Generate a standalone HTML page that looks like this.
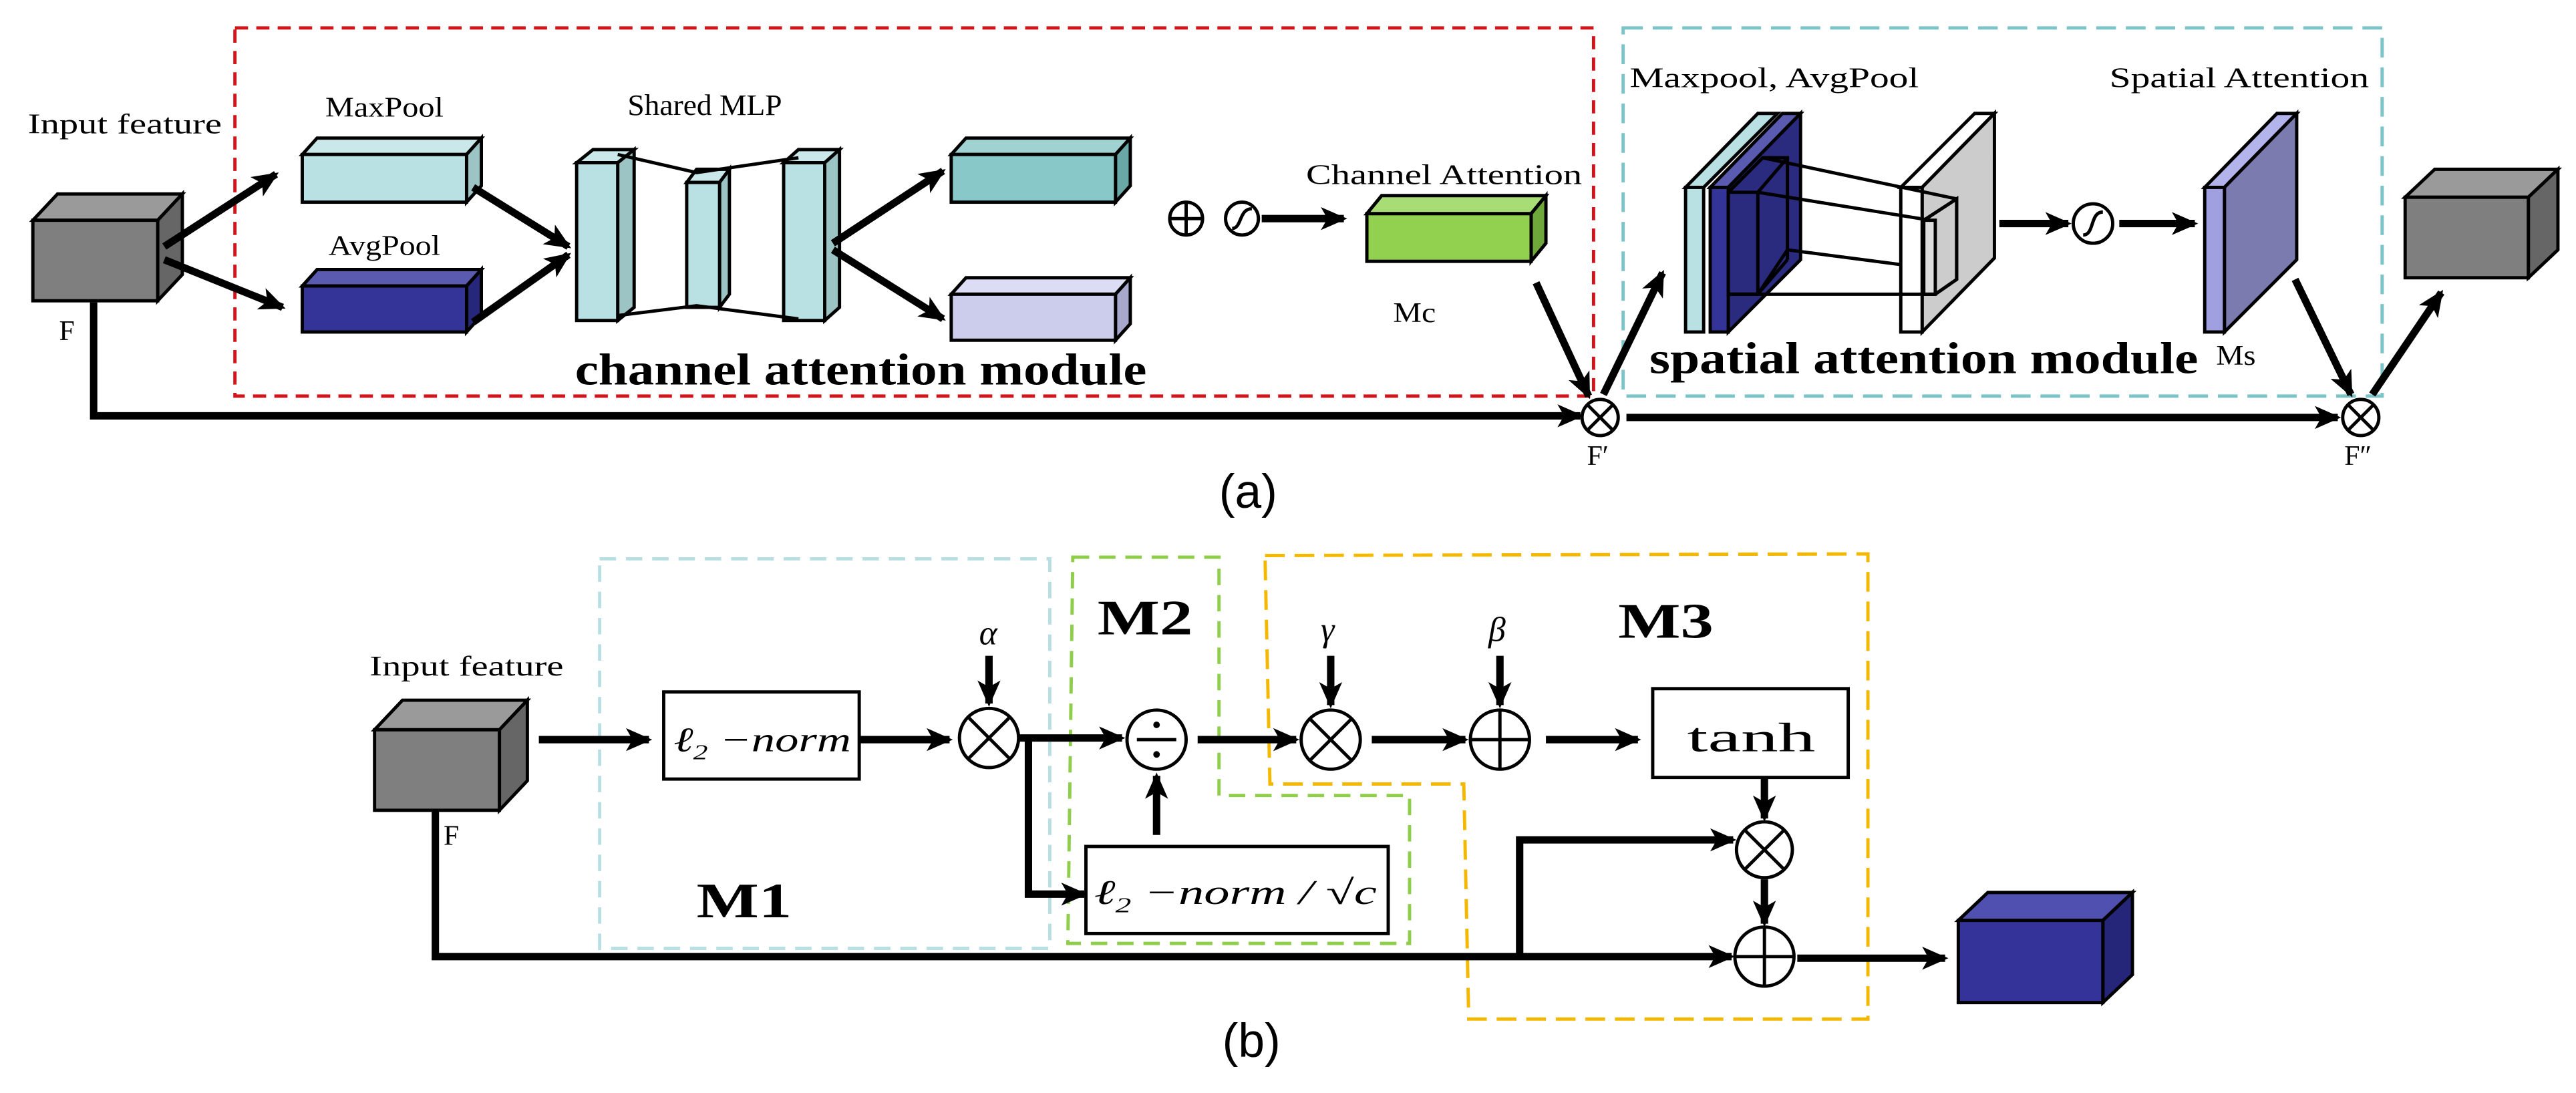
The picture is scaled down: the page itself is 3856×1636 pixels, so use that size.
<!DOCTYPE html>
<html><head><meta charset="utf-8"><style>
html,body{margin:0;padding:0;background:#fff;}
svg{display:block;}
text{font-family:"Liberation Serif",serif;}
</style></head><body>
<svg width="3856" height="1636" viewBox="0 0 1568 665" preserveAspectRatio="none" xmlns="http://www.w3.org/2000/svg">
<defs>
<marker id="ah" markerUnits="userSpaceOnUse" markerWidth="16" markerHeight="16" viewBox="0 0 16 16" refX="14" refY="8" orient="auto">
<path d="M0,1 L16,8 L0,15 L4,8 Z" fill="#000"/></marker>
</defs>
<g stroke="#000" stroke-width="2" stroke-linejoin="miter">
<rect x="143" y="17" width="827" height="224" fill="none" stroke="#d0161c" stroke-width="2" stroke-dasharray="8,5"/>
<rect x="988" y="17" width="462" height="224" fill="none" stroke="#7cc4c8" stroke-width="2" stroke-dasharray="12,6"/>

<polygon points="20,134 35,118 111,118 96,134" fill="#9a9a9a"/>
<polygon points="96,134 111,118 111,167 96,183" fill="#666"/>
<rect x="20" y="134" width="76" height="49" fill="#7f7f7f"/>
<polygon points="184,94 193,84 293,84 284,94" fill="#cae8e9"/>
<polygon points="284,94 293,84 293,113 284,123" fill="#9cc4c4"/>
<rect x="184" y="94" width="100" height="29" fill="#b9e0e2"/>
<polygon points="184,174 193,164 293,164 284,174" fill="#5a5ab0"/>
<polygon points="284,174 293,164 293,192 284,202" fill="#26267a"/>
<rect x="184" y="174" width="100" height="28" fill="#343498"/>
<polygon points="351,99 361,91 386,91 376,99" fill="#cae8e9"/>
<polygon points="376,99 386,91 386,187 376,195" fill="#9cc4c4"/>
<rect x="351" y="99" width="25" height="96" fill="#b9e0e2"/>
<polygon points="418,111 424,103 444,103 438,111" fill="#cae8e9"/>
<polygon points="438,111 444,103 444,179 438,187" fill="#9cc4c4"/>
<rect x="418" y="111" width="20" height="76" fill="#b9e0e2"/>
<polygon points="477,99 486,91 511,91 502,99" fill="#cae8e9"/>
<polygon points="502,99 511,91 511,187 502,195" fill="#9cc4c4"/>
<rect x="477" y="99" width="25" height="96" fill="#b9e0e2"/>
<polyline points="376,94 424,105 486,96" fill="none"/>
<polyline points="376,192 424,186 486,194" fill="none"/>
<polygon points="579,94 588,84 688,84 679,94" fill="#a0d2d2"/>
<polygon points="679,94 688,84 688,113 679,123" fill="#6aa8a8"/>
<rect x="579" y="94" width="100" height="29" fill="#88c8c8"/>
<polygon points="579,179 588,169 688,169 679,179" fill="#dcdcf4"/>
<polygon points="679,179 688,169 688,197 679,207" fill="#a8a8cc"/>
<rect x="579" y="179" width="100" height="28" fill="#ccccec"/>
<polygon points="832,130 841,119 941,119 932,130" fill="#a8dc74"/>
<polygon points="932,130 941,119 941,148 932,159" fill="#6fa83a"/>
<rect x="832" y="130" width="100" height="29" fill="#92d050"/>
<polygon points="1464,120 1482,103 1557,103 1539,120" fill="#9a9a9a"/>
<polygon points="1539,120 1557,103 1557,152 1539,169" fill="#666"/>
<rect x="1464" y="120" width="75" height="49" fill="#7f7f7f"/>

<polygon points="1026,114 1070,69 1082,69 1037,114" fill="#b9e0e2"/>
<rect x="1026" y="114" width="11" height="88" fill="#b9e0e2"/>
<polygon points="1041,114 1085,69 1096,69 1052,114" fill="#5a5ab0"/>
<polygon points="1052,114 1096,69 1096,158 1052,202" fill="#2a2a7e"/>
<rect x="1041" y="114" width="11" height="88" fill="#343498"/>
<polygon points="1052,117 1073,96 1088,96 1088,152 1070,179 1052,179" fill="#2a2a7e"/>
<polyline points="1052,117 1073,96 1088,96" fill="none"/>
<line x1="1070" y1="117" x2="1088" y2="96"/>
<line x1="1070" y1="117" x2="1070" y2="179"/>
<line x1="1052" y1="117" x2="1070" y2="117"/>
<line x1="1052" y1="179" x2="1070" y2="179"/>
<line x1="1088" y1="96" x2="1088" y2="158"/>
<line x1="1070" y1="179" x2="1088" y2="158"/>
<polygon points="1157,114 1202,69 1214,69 1170,114" fill="#fff"/>
<polygon points="1170,114 1214,69 1214,157 1170,202" fill="#cccccc"/>
<rect x="1157" y="114" width="13" height="88" fill="#fff"/>
<polygon points="1171,134 1191,121 1191,170 1178,179 1171,179" fill="#ccc"/>
<polyline points="1171,134 1191,121 1191,170 1178,179" fill="none"/>
<rect x="1171" y="134" width="7" height="45" fill="#ddd"/>
<line x1="1073" y1="96" x2="1191" y2="121"/>
<line x1="1070" y1="117" x2="1175" y2="134"/>
<line x1="1088" y1="152" x2="1157" y2="161"/>
<line x1="1052" y1="179" x2="1178" y2="179"/>
<polygon points="1342,114 1386,69 1398,69 1354,114" fill="#b4b4ec"/>
<polygon points="1354,114 1398,69 1398,158 1354,202" fill="#7b7bb0"/>
<rect x="1342" y="114" width="12" height="88" fill="#a0a0e0"/>
</g>

<g fill="#fff" stroke="#000" stroke-width="2">
<circle cx="722" cy="133" r="10"/>
<circle cx="756" cy="133" r="10"/>
<circle cx="974" cy="254" r="11"/>
<circle cx="1437" cy="254" r="11"/>
<circle cx="1274" cy="136" r="12"/>
</g>
<g stroke="#000" stroke-width="2" fill="none">
<line x1="712" y1="133" x2="732" y2="133"/><line x1="722" y1="123" x2="722" y2="143"/>
<path d="M750,139 C756,139 754,127 762,127"/>
<path d="M1268,143 C1275,143 1272,129 1280,129"/>
<line x1="966" y1="246" x2="982" y2="262"/><line x1="982" y1="246" x2="966" y2="262"/>
<line x1="1429" y1="246" x2="1445" y2="262"/><line x1="1445" y1="246" x2="1429" y2="262"/>
</g>

<g stroke="#000" stroke-width="4.5" fill="none" marker-end="url(#ah)">
<line x1="100" y1="150" x2="168" y2="106"/>
<line x1="100" y1="158" x2="172" y2="187"/>
<line x1="288" y1="114" x2="346" y2="150"/>
<line x1="288" y1="196" x2="346" y2="155"/>
<line x1="507" y1="148" x2="574" y2="104"/>
<line x1="507" y1="152" x2="574" y2="194"/>
<line x1="768" y1="133" x2="818" y2="133"/>
<polyline points="57,184 57,253 962,253"/>
<line x1="935" y1="172" x2="967" y2="241"/>
<line x1="976" y1="240" x2="1012" y2="166"/>
<line x1="990" y1="254" x2="1423" y2="254"/>
<line x1="1217" y1="136" x2="1259" y2="136"/>
<line x1="1290" y1="136" x2="1336" y2="136"/>
<line x1="1397" y1="170" x2="1431" y2="240"/>
<line x1="1444" y1="240" x2="1486" y2="178"/>
</g>

<g fill="#000" font-size="17">
<text x="17" y="81" textLength="118" lengthAdjust="spacingAndGlyphs">Input feature</text>
<text x="198" y="71" textLength="72" lengthAdjust="spacingAndGlyphs">MaxPool</text>
<text x="200" y="155" textLength="68" lengthAdjust="spacingAndGlyphs">AvgPool</text>
<text x="382" y="70" font-size="18" textLength="94" lengthAdjust="spacingAndGlyphs">Shared MLP</text>
<text x="795" y="112" textLength="168" lengthAdjust="spacingAndGlyphs">Channel Attention</text>
<text x="848" y="196" textLength="26" lengthAdjust="spacingAndGlyphs">Mc</text>
<text x="992" y="53" textLength="176" lengthAdjust="spacingAndGlyphs">Maxpool, AvgPool</text>
<text x="1284" y="53" textLength="158" lengthAdjust="spacingAndGlyphs">Spatial Attention</text>
<text x="1349" y="222" textLength="24" lengthAdjust="spacingAndGlyphs">Ms</text>
<text x="36" y="207">F</text>
<text x="966" y="283">F′</text>
<text x="1427" y="283">F″</text>
<text x="350" y="234" font-size="27" font-weight="bold" textLength="348" lengthAdjust="spacingAndGlyphs">channel attention module</text>
<text x="1004" y="227" font-size="27" font-weight="bold" textLength="334" lengthAdjust="spacingAndGlyphs">spatial attention module</text>
<text x="742" y="309" font-size="29" style="font-family:'Liberation Sans',sans-serif">(a)</text>
</g>

<g fill="none" stroke-width="2">
<rect x="365" y="340" width="274" height="237" stroke="#b8dfe4" stroke-dasharray="10,6"/>
<polygon points="653,339 742,339 742,484 858,484 858,574 650,574" stroke="#8fce4a" stroke-dasharray="10,6"/>
<polygon points="770,338 1137,337 1137,620 894,620 891,477 773,477" stroke="#f5b800" stroke-dasharray="12,6"/>
</g>
<g stroke="#000" stroke-width="2">
<polygon points="228,444 245,426 321,426 304,444" fill="#9a9a9a"/>
<polygon points="304,444 321,426 321,475 304,493" fill="#666"/>
<rect x="228" y="444" width="76" height="49" fill="#7f7f7f"/>
<polygon points="1192,560 1210,543 1298,543 1280,560" fill="#5050b0"/>
<polygon points="1280,560 1298,543 1298,593 1280,610" fill="#25257a"/>
<rect x="1192" y="560" width="88" height="50" fill="#333399"/>
<rect x="404" y="421" width="119" height="53" fill="#fff"/>
<rect x="661" y="515" width="184" height="53" fill="#fff"/>
<rect x="1006" y="419" width="119" height="54" fill="#fff"/>
</g>
<g fill="#fff" stroke="#000" stroke-width="2">
<circle cx="602" cy="449" r="18"/>
<circle cx="704" cy="450" r="18"/>
<circle cx="810" cy="450" r="18"/>
<circle cx="913" cy="450" r="18"/>
<circle cx="1074" cy="517" r="17"/>
<circle cx="1074" cy="582" r="18"/>
</g>
<g stroke="#000" stroke-width="2" fill="none">
<line x1="589" y1="436" x2="615" y2="462"/><line x1="615" y1="436" x2="589" y2="462"/>
<line x1="797" y1="437" x2="823" y2="463"/><line x1="823" y1="437" x2="797" y2="463"/>
<line x1="1062" y1="505" x2="1086" y2="529"/><line x1="1086" y1="505" x2="1062" y2="529"/>
<line x1="895" y1="450" x2="931" y2="450"/><line x1="913" y1="432" x2="913" y2="468"/>
<line x1="1056" y1="582" x2="1092" y2="582"/><line x1="1074" y1="564" x2="1074" y2="600"/>
<line x1="692" y1="450" x2="716" y2="450"/>
</g>
<circle cx="704" cy="441" r="2" fill="#000"/><circle cx="704" cy="459" r="2" fill="#000"/>

<g stroke="#000" stroke-width="4.5" fill="none" marker-end="url(#ah)">
<line x1="328" y1="450" x2="395" y2="450"/>
<line x1="523" y1="450" x2="578" y2="450"/>
<line x1="620" y1="449" x2="683" y2="449"/>
<polyline points="626,449 626,544 660,544"/>
<line x1="704" y1="508" x2="704" y2="472"/>
<line x1="729" y1="450" x2="789" y2="450"/>
<line x1="835" y1="450" x2="892" y2="450"/>
<line x1="941" y1="450" x2="997" y2="450"/>
<line x1="602" y1="399" x2="602" y2="428"/>
<line x1="810" y1="399" x2="810" y2="429"/>
<line x1="913" y1="399" x2="913" y2="429"/>
<line x1="1074" y1="473" x2="1074" y2="498"/>
<line x1="1074" y1="535" x2="1074" y2="562"/>
<polyline points="265,493 265,582 1054,582"/>
<polyline points="925,583 925,511 1055,511"/>
<line x1="1094" y1="583" x2="1184" y2="583"/>
</g>

<g fill="#000" font-size="17">
<text x="225" y="411" textLength="118" lengthAdjust="spacingAndGlyphs">Input feature</text>
<text x="270" y="514">F</text>
<text x="410" y="457" font-size="21" font-style="italic" textLength="108" lengthAdjust="spacingAndGlyphs">ℓ<tspan font-size="13" dy="5">2</tspan><tspan dy="-5"> −norm</tspan></text>
<text x="666" y="550" font-size="21" font-style="italic" textLength="172" lengthAdjust="spacingAndGlyphs">ℓ<tspan font-size="13" dy="5">2</tspan><tspan dy="-5"> −norm / √c</tspan></text>
<text x="1027" y="457" font-size="25" textLength="78" lengthAdjust="spacingAndGlyphs">tanh</text>
<text x="596" y="392" font-size="21" font-style="italic">α</text>
<text x="804" y="390" font-size="21" font-style="italic">γ</text>
<text x="906" y="390" font-size="21" font-style="italic">β</text>
<text x="668" y="386" font-size="30" font-weight="bold" textLength="58" lengthAdjust="spacingAndGlyphs">M2</text>
<text x="985" y="388" font-size="30" font-weight="bold" textLength="58" lengthAdjust="spacingAndGlyphs">M3</text>
<text x="424" y="558" font-size="30" font-weight="bold" textLength="58" lengthAdjust="spacingAndGlyphs">M1</text>
<text x="744" y="643" font-size="29" style="font-family:'Liberation Sans',sans-serif">(b)</text>
</g>
</svg>
</body></html>
